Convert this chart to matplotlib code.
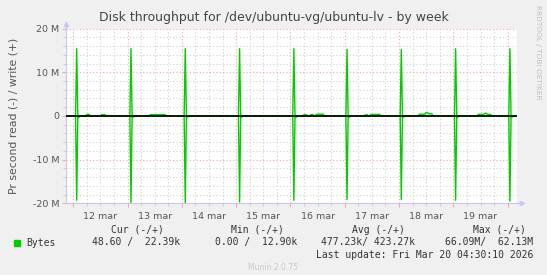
import numpy as np
import matplotlib
matplotlib.use('Agg')
import matplotlib.pyplot as plt
from matplotlib.patches import Rectangle
from matplotlib.ticker import FixedLocator, FuncFormatter

# time axis in hours from 12 mar 00:00, 30 min samples
t_start, t_end, step = -3.0, 196.0, 0.5
x_left, x_right = -3.09, 196.0

day_labels = ['12 mar', '13 mar', '14 mar', '15 mar', '16 mar', '17 mar', '18 mar', '19 mar']

# nightly spikes (values in M bytes/s)
spike_hour = [1.5, 25.5, 49.5, 73.5, 97.5, 121.0, 145.0, 169.0, 193.0]
spike_write = [15.4, 15.4, 15.4, 15.4, 15.4, 15.2, 15.2, 15.4, 15.4]
spike_read = [19.3, 19.9, 19.9, 19.7, 19.3, 19.1, 19.1, 19.3, 19.5]
blip_read = [0.35, 0.3, 0.3, 0.3, 0.3, 0.3, 0.3, 0.3, 0.3]

# small daytime write bumps
bump_start = [6.0, 12.5, 34.0, 102.0, 105.0, 107.5, 129.0, 131.5, 153.0, 156.0, 157.0, 179.0, 182.0, 183.0]
bump_end = [7.0, 14.0, 40.5, 103.0, 106.0, 110.5, 130.0, 135.5, 155.5, 157.0, 158.5, 181.5, 183.0, 184.5]
bump_write = [0.35, 0.3, 0.3, 0.3, 0.3, 0.4, 0.25, 0.35, 0.4, 0.8, 0.5, 0.35, 0.6, 0.35]

legend_head = ['Cur (-/+)', 'Min (-/+)', 'Avg (-/+)', 'Max (-/+)']
legend_vals = ['48.60 /  22.39k', '0.00 /  12.90k', '477.23k/ 423.27k', '66.09M/  62.13M']

t = np.arange(t_start, t_end + step, step)
write = np.zeros_like(t)
read = np.zeros_like(t)
for h, w, r, b in zip(spike_hour, spike_write, spike_read, blip_read):
    i = int(round((h - t_start) / step))
    write[i] = w
    read[i] = r
    read[i + 2] = b
for s, e, v in zip(bump_start, bump_end, bump_write):
    m = (t >= s) & (t <= e)
    write[m] = v

W, H = 547, 275
fig = plt.figure(figsize=(W / 100, H / 100), dpi=100, facecolor='#f0f0f0')
ax = fig.add_axes([66.3 / W, 1 - 203.3 / H, 450.4 / W, 174.7 / H])
ax.set_facecolor('white')

green = '#00cc00'
ax.plot(t, write * 1e6, color=green, lw=1.0, zorder=3)
ax.plot(t, -read * 1e6, color=green, lw=1.0, zorder=3)
ax.axhline(0, color='black', lw=1.2, zorder=4)

ax.set_xlim(x_left, x_right)
ax.set_ylim(-20e6, 20e6)

ax.xaxis.set_major_locator(FixedLocator(np.arange(0, 193, 24)))
ax.xaxis.set_minor_locator(FixedLocator(np.arange(-0, 197, 6)))
ax.xaxis.set_major_formatter(FuncFormatter(lambda v, p: ''))
ax.xaxis.set_minor_formatter(FuncFormatter(
    lambda v, p: day_labels[int(v // 24)] if v % 24 == 12 and 0 <= v // 24 < len(day_labels) else ''))

ax.yaxis.set_major_locator(FixedLocator([-20e6, -10e6, 0, 10e6, 20e6]))
ax.yaxis.set_minor_locator(FixedLocator(np.arange(-18e6, 19e6, 2e6)))
ax.yaxis.set_major_formatter(FuncFormatter(
    lambda v, p: '0' if v == 0 else '%d M' % round(v / 1e6)))

red_grid = '#f0a8a8'
gray_grid = '#d0d0d0'
ax.grid(which='major', color=red_grid, ls=(0, (1, 2)), lw=0.8)
ax.grid(which='minor', color=gray_grid, ls=(0, (1, 2)), lw=0.8)
ax.set_axisbelow(True)

ax.tick_params(which='major', length=3, width=0.8, color=red_grid, labelsize=6.8,
               labelcolor='#555555', pad=2)
ax.tick_params(which='minor', length=2, width=0.8, color=gray_grid, labelsize=6.8,
               labelcolor='#555555', pad=3)
ax.tick_params(axis='x', which='minor', length=2, pad=4)

for sp in ['top', 'right']:
    ax.spines[sp].set_visible(False)
axis_col = '#c8c8f0'
ax.spines['left'].set_color(axis_col)
ax.spines['bottom'].set_color(axis_col)
ax.plot([0, 0], [1, 1.025], color=axis_col, lw=1, transform=ax.transAxes, clip_on=False)
ax.plot([1, 1.012], [0, 0], color=axis_col, lw=1, transform=ax.transAxes, clip_on=False)
ax.plot([0], [1.025], marker='^', ms=3, color=axis_col, transform=ax.transAxes, clip_on=False)
ax.plot([1.012], [0], marker='>', ms=3, color=axis_col, transform=ax.transAxes, clip_on=False)

ax.set_ylabel('Pr second read (-) / write (+)', fontsize=7.8, color='#555555', labelpad=10)

fig.text(274 / W, 1 - 18 / H, 'Disk throughput for /dev/ubuntu-vg/ubuntu-lv - by week',
         ha='center', va='center', fontsize=9.0, color='#444444')
fig.text(538 / W, 1 - 5 / H, 'RRDTOOL / TOBI OETIKER', rotation=-90, ha='center', va='top',
         fontsize=5.3, color='#c0c0c0')
fig.text(273 / W, 1 - 268 / H, 'Munin 2.0.75', ha='center', va='center', fontsize=5.5,
         color='#c8c8c8')

mono = dict(family='DejaVu Sans Mono', fontsize=7, color='#333333', va='center')
head_right = [164, 284, 405, 526]
val_right = [180, 297, 415, 533]
for s, x in zip(legend_head, head_right):
    fig.text(x / W, 1 - 230 / H, s, ha='right', **mono)
for s, x in zip(legend_vals, val_right):
    fig.text(x / W, 1 - 242.5 / H, s, ha='right', **mono)
fig.text(26 / W, 1 - 242.5 / H, 'Bytes', ha='left', **mono)
fig.patches.append(Rectangle((14 / W, 1 - 246 / H), 5.5 / W, 6 / H, color=green,
                             transform=fig.transFigure, figure=fig))
fig.text(533 / W, 1 - 254.5 / H, 'Last update: Fri Mar 20 04:30:10 2026', ha='right', **mono)

fig.savefig('out.png', dpi=100, facecolor=fig.get_facecolor())
